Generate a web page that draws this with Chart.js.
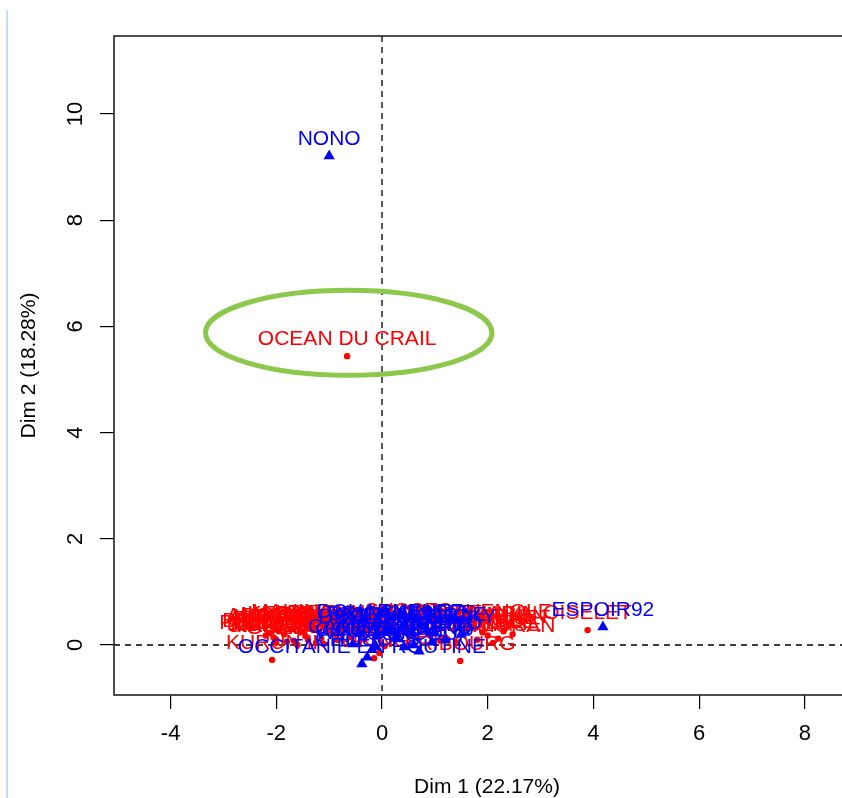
<!DOCTYPE html>
<html><head><meta charset="utf-8">
<script src="https://cdn.jsdelivr.net/npm/chart.js@4.4.1/dist/chart.umd.min.js"></script>
<style>
html,body{margin:0;padding:0;background:#fff;overflow:hidden;width:842px;height:798px;}
#wrap{position:relative;width:870px;height:798px;}
#edge{position:absolute;left:6px;top:10px;width:2px;height:788px;background:#c9dcf1;}
canvas{display:block;}
</style></head><body>
<div id="wrap"><canvas id="c" width="870" height="798"></canvas><div id="edge"></div></div>
<script>
// individuals (red dots)
const indNames = ['DEMOISELLE','CAP CORSE','KURUN II','BELLE ILE','PETIT PRINCE','MARIE GALANTE','ALBATROS','GOELAND','SIROCCO','LA BOHEME','TREGOR','KERIS','EOLE','GWENN HA DU','ARMOR','SUCCES','MISTRAL','BREIZH','LA PAIMPOLAISE','SAINT GUENOLE','FRIBOURG','NEPTUNE','ETOILE','MARIN','ORION','OISELET','VIKING','ZEPHYR','AURORE',
  'ARGOAT','PEN DUICK','KORRIGAN','MOR BIHAN','LE FOU','SANT ANNA','TI ZEF','STAR','MAHINA','GRAND LARGE','PERLE','CORMORAN','LES MOINES','LA BRISE','PHENIX','OCEAN DU CRAIL'];
const indX = [-1.67,-1.00,-2.08,-2.05,-1.45,-1.25,-1.85,-1.60,-2.00,-1.15,-0.85,-1.95,-0.60,-0.40,0.20,0.50,0.90,1.10,1.40,1.60,1.48,2.00,2.20,2.30,2.47,3.89,-0.15,-0.05,0.05,
  -2.12,-2.00,-1.80,-1.55,-1.30,-1.10,-0.90,-2.20,-1.70,1.20,1.80,2.10,-1.40,1.00,1.90,-0.66];
const indY = [0.08,0.23,-0.28,0.14,0.17,0.04,0.20,0.00,0.04,0.12,0.10,0.26,0.15,0.28,0.25,0.32,0.20,0.08,0.05,0.30,-0.30,0.18,0.12,0.26,0.20,0.28,-0.25,-0.15,-0.02,
  0.22,0.10,0.06,0.24,0.28,0.02,0.20,0.18,0.30,0.14,0.10,0.04,0.10,0.28,0.24,5.44];
// categories (blue triangles)
const catNames = ['NONO','ESPOIR92','OCCITANIE EN ROUTINE','CHOUCAS','WINDSURF','SURCOUF','LUCKY','DOUARNENEZ','CORSAIRE 70','CONCORDE','DIWEZH','BLUE WIND','CORNOUAILLE','MAKOA','PIRATE','SOLUNA','BRIGANTIN','GALATEE','ANAKO','VAGABOND','CAMILLE'];
const catX = [-1.00,4.18,-0.38,-0.28,-0.19,0.70,1.50,0.15,0.42,-0.11,-0.42,0.25,0.55,1.00,0.95,-0.10,0.05,0.85,1.20,0.60,-0.55];
const catY = [9.21,0.34,-0.36,-0.23,-0.09,-0.12,0.20,0.30,-0.04,-0.04,0.21,0.12,0.25,0.22,0.05,0.18,0.26,0.28,0.10,0.00,0.02];
// axes
const xTicks = [-4,-2,0,2,4,6,8];
const yTicks = [0,2,4,6,8,10];
const xTitle = 'Dim 1 (22.17%)';
const yTitle = 'Dim 2 (18.28%)';
// highlight ellipse (data units)
const hlCenter = [-0.63, 5.88];
const hlRadius = [2.71, 0.80];

const FONT = "'Liberation Sans', Arial, sans-serif";

const labelPlugin = {
  id: 'pointLabels',
  afterDatasetDraw(chart, args) {
    const ds = chart.data.datasets[args.index];
    const names = ds.names; if (!names) return;
    const ctx = chart.ctx, a = chart.chartArea;
    ctx.save();
    ctx.beginPath(); ctx.rect(a.left, a.top, a.right - a.left, a.bottom - a.top); ctx.clip();
    ctx.font = '21px ' + FONT;
    ctx.fillStyle = ds.textColor;
    ctx.textAlign = 'center'; ctx.textBaseline = 'alphabetic';
    args.meta.data.forEach((el, i) => { ctx.fillText(names[i], el.x, el.y - 11); });
    ctx.restore();
  }
};

const refPlugin = {
  id: 'refLines',
  beforeDatasetsDraw(chart) {
    const ctx = chart.ctx, a = chart.chartArea, sx = chart.scales.x, sy = chart.scales.y;
    const x0 = sx.getPixelForValue(0), y0 = sy.getPixelForValue(0);
    ctx.save();
    ctx.strokeStyle = '#000'; ctx.lineWidth = 1.3; ctx.setLineDash([6, 5]);
    ctx.beginPath(); ctx.moveTo(x0, a.top); ctx.lineTo(x0, a.bottom); ctx.stroke();
    ctx.beginPath(); ctx.moveTo(a.left, y0); ctx.lineTo(a.right, y0); ctx.stroke();
    ctx.restore();
  },
  afterDraw(chart) {
    const ctx = chart.ctx, a = chart.chartArea, sx = chart.scales.x, sy = chart.scales.y;
    ctx.save();
    // ellipse
    const cx = sx.getPixelForValue(hlCenter[0]), cy = sy.getPixelForValue(hlCenter[1]);
    const rx = Math.abs(sx.getPixelForValue(hlCenter[0] + hlRadius[0]) - cx);
    const ry = Math.abs(sy.getPixelForValue(hlCenter[1] + hlRadius[1]) - cy);
    ctx.strokeStyle = '#8cc84b'; ctx.lineWidth = 5;
    ctx.beginPath(); ctx.ellipse(cx, cy, rx, ry, 0, 0, Math.PI * 2); ctx.stroke();
    // frame
    ctx.strokeStyle = '#222'; ctx.lineWidth = 1.6;
    ctx.strokeRect(a.left, a.top, a.right - a.left, a.bottom - a.top);
    // rotated y tick labels
    ctx.fillStyle = '#000'; ctx.font = '22px ' + FONT;
    ctx.textAlign = 'center'; ctx.textBaseline = 'middle';
    sy.ticks.forEach(t => {
      const py = sy.getPixelForValue(t.value);
      ctx.save(); ctx.translate(76, py); ctx.rotate(-Math.PI / 2);
      ctx.fillText(String(t.value), 0, 0); ctx.restore();
    });
    ctx.restore();
  }
};

new Chart(document.getElementById('c'), {
  type: 'scatter',
  data: {
    datasets: [
      { order: 2, data: indX.map((x, i) => ({x, y: indY[i]})), names: indNames, textColor: '#ff0000',
        pointStyle: 'circle', pointRadius: 3.2, backgroundColor: '#ff0000', borderWidth: 0 },
      { order: 1, data: catX.map((x, i) => ({x, y: catY[i]})), names: catNames, textColor: '#0000ff',
        pointStyle: 'triangle', pointRadius: 6.5, backgroundColor: '#0000ff', borderWidth: 0 }
    ]
  },
  options: {
    responsive: false, animation: false, devicePixelRatio: 1,
    layout: { padding: { top: 36, right: 10, left: 0, bottom: 0 } },
    plugins: { legend: { display: false }, tooltip: { enabled: false } },
    scales: {
      x: {
        type: 'linear', min: -5.071, max: 9.044,
        afterBuildTicks: s => { s.ticks = xTicks.map(v => ({ value: v })); },
        afterFit: s => { s.height = 103; },
        grid: { drawOnChartArea: false, drawTicks: true, tickLength: 14, color: '#000', lineWidth: 1.2 },
        border: { display: false },
        ticks: { color: '#000', font: { family: FONT, size: 22 }, padding: 12, maxRotation: 0, autoSkip: false },
        title: { display: true, text: xTitle, color: '#000', font: { family: FONT, size: 21, lineHeight: 1 }, padding: { top: 0, bottom: 0 } }
      },
      y: {
        type: 'linear', min: -0.942, max: 11.47,
        afterBuildTicks: s => { s.ticks = yTicks.map(v => ({ value: v })); },
        afterFit: s => { s.width = 114; },
        grid: { drawOnChartArea: false, drawTicks: true, tickLength: 14, color: '#000', lineWidth: 1.2 },
        border: { display: false },
        ticks: { display: false },
        title: { display: true, text: yTitle, color: '#000', font: { family: FONT, size: 21, lineHeight: 1 }, padding: { top: 19, bottom: 0 } }
      }
    }
  },
  plugins: [labelPlugin, refPlugin]
});
</script>
</body></html>
